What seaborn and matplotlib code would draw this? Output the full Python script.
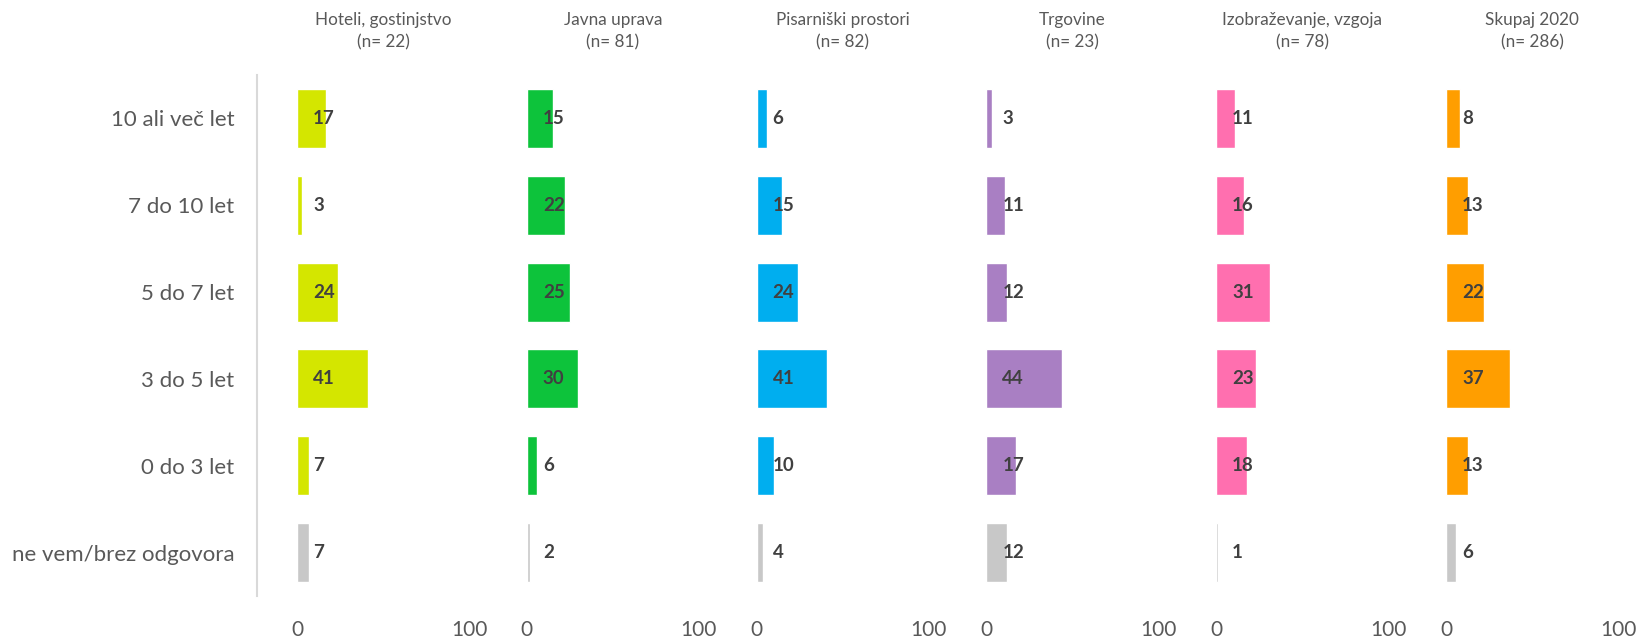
import matplotlib
matplotlib.use("Agg")
import matplotlib.pyplot as plt
import matplotlib.transforms as mtransforms
import seaborn as sns
import pandas as pd

sns.set_style("white")
plt.rcParams['font.family'] = ['Lato', 'DejaVu Sans']

categories = ["10 ali več let", "7 do 10 let", "5 do 7 let", "3 do 5 let",
              "0 do 3 let", "ne vem/brez odgovora"]
panels = ["Hoteli, gostinjstvo\n(n= 22)", "Javna uprava\n(n= 81)",
          "Pisarniški prostori\n(n= 82)", "Trgovine\n(n= 23)",
          "Izobraževanje, vzgoja\n(n= 78)", "Skupaj 2020\n(n= 286)"]
hoteli = [17, 3, 24, 41, 7, 7]
javna = [15, 22, 25, 30, 6, 2]
pisarniski = [6, 15, 24, 41, 10, 4]
trgovine = [3, 11, 12, 44, 17, 12]
izobrazevanje = [11, 16, 31, 23, 18, 1]
skupaj = [8, 13, 22, 37, 13, 6]
series = [hoteli, javna, pisarniski, trgovine, izobrazevanje, skupaj]
colors = ["#D4E600", "#0DC33B", "#00AEEF", "#A97FC3", "#FF6FAF", "#FF9E00"]
gray = "#C8C8C8"

W, H = 1639, 637
fig = plt.figure(figsize=(W / 100, H / 100), dpi=100)

zero0, step, width = 297, 229.8, 172
top, bottom = 75, 596
for i, (title, vals, col) in enumerate(zip(panels, series, colors)):
    left = zero0 + i * step
    ax = fig.add_axes([left / W, 1 - bottom / H, width / W, (bottom - top) / H])
    df = pd.DataFrame({"kat": categories, "val": vals})
    sns.barplot(data=df, x="val", y="kat", hue="kat", orient="h",
                palette=[col] * 5 + [gray], legend=False, width=0.68,
                saturation=1, ax=ax)
    ax.set_xlim(0, 100)
    ax.set_ylim(5.5, -0.5)
    ax.set_xticks([0, 100])
    ax.set_xlabel("")
    ax.set_ylabel("")
    ax.tick_params(axis="x", length=0, pad=17, labelsize=15, labelcolor="#595959")
    ax.tick_params(axis="y", length=0, pad=16, labelsize=16, labelcolor="#595959")
    for s in ["top", "right", "bottom"]:
        ax.spines[s].set_visible(False)
    if i == 0:
        ax.spines["left"].set_color("#D9D9D9")
        ax.spines["left"].set_linewidth(1.5)
        ax.spines["left"].set_position(("outward", 29))
    else:
        ax.spines["left"].set_visible(False)
        ax.set_yticklabels([])
    ax.set_title(title, fontsize=12.3, color="#595959", pad=20, linespacing=1.45)
    trans = mtransforms.offset_copy(ax.transData, fig=fig, x=16 * 0.72, y=0, units="points")
    for j, v in enumerate(vals):
        ax.text(0, j, str(v), transform=trans, ha="left", va="center",
                fontsize=13.5, fontweight="bold", color="#404040")

fig.savefig("out.png", dpi=100)
